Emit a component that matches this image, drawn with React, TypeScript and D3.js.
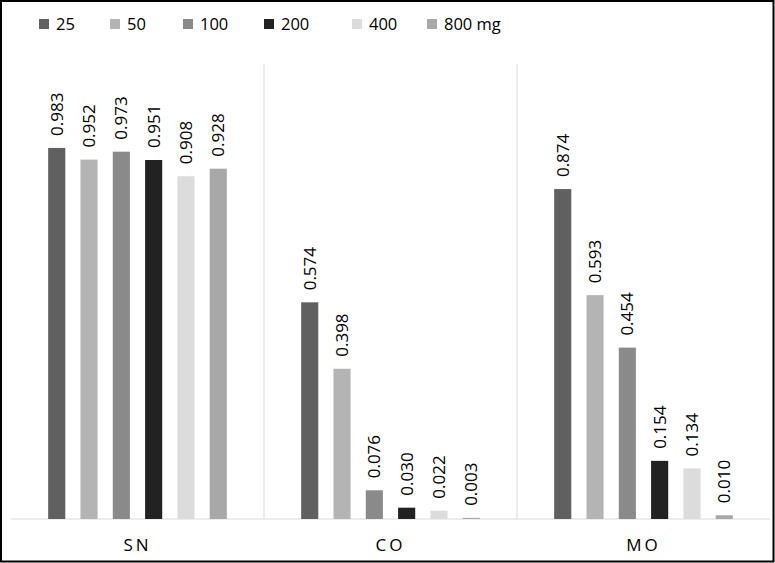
import React from 'react';
import * as d3 from 'd3';

const categories = ['SN', 'CO', 'MO'];
const doses = ['25', '50', '100', '200', '400', '800 mg'];
const doseColors = ['#606060', '#b4b4b4', '#8a8a8a', '#222222', '#dcdcdc', '#a8a8a8'];

const snValues = [0.983, 0.952, 0.973, 0.951, 0.908, 0.928];
const coValues = [0.574, 0.398, 0.076, 0.03, 0.022, 0.003];
const moValues = [0.874, 0.593, 0.454, 0.154, 0.134, 0.01];
const seriesByCategory = [snValues, coValues, moValues];

const legendX = [39, 110, 183, 264, 352, 427];

const W = 775;
const H = 563;
const font = "'Open Sans', 'Liberation Sans', Arial, sans-serif";

const App = () => {
  const x0 = d3.scaleBand<string>().domain(categories).range([11, 770]);
  const x1 = d3.scaleBand<string>()
    .domain(doses)
    .range([0, x0.bandwidth()])
    .paddingInner(0.47)
    .paddingOuter(1.15);
  const y = d3.scaleLinear().domain([0, 1.2]).range([519, 66]);

  return (
    <>
      <style>{`body{margin:0}`}</style>
      <svg width={W} height={H} style={{ display: 'block', fontFamily: font }}>
        <rect x={0} y={0} width={W} height={H} fill="#fff" />
        <rect x={1} y={1} width={W - 2.5} height={H - 2.5} fill="none" stroke="#000" strokeWidth={2} />

        {/* category separators */}
        {categories.slice(1).map(c => (
          <line key={c} x1={x0(c)} x2={x0(c)} y1={y(1.2) - 2} y2={y(0)} stroke="#d9d9d9" strokeWidth={1} />
        ))}
        <line x1={x0.range()[0]} x2={x0.range()[1]} y1={y(0)} y2={y(0)} stroke="#d9d9d9" strokeWidth={1} />

        {categories.map((c, ci) => (
          <g key={c} transform={`translate(${x0(c)},0)`}>
            {seriesByCategory[ci].map((v, i) => {
              const bx = x1(doses[i]) as number;
              const cx = bx + x1.bandwidth() / 2;
              return (
                <g key={i}>
                  <rect x={bx} y={y(v)} width={x1.bandwidth()} height={y(0) - y(v)} fill={doseColors[i]} />
                  <text
                    transform={`translate(${cx + 6},${y(v) - 12}) rotate(-90)`}
                    fontSize={17}
                    fill="#000"
                  >
                    {v.toFixed(3)}
                  </text>
                </g>
              );
            })}
            <text
              x={x0.bandwidth() / 2}
              y={551}
              textAnchor="middle"
              fontSize={17}
              letterSpacing={3}
              fill="#000"
            >
              {c}
            </text>
          </g>
        ))}

        {/* legend */}
        {doses.map((d, i) => (
          <g key={d} transform={`translate(${legendX[i]},19)`}>
            <rect x={0} y={0} width={10} height={10} fill={doseColors[i]} />
            <text x={17} y={11} fontSize={16.5} fill="#000">{d}</text>
          </g>
        ))}
      </svg>
    </>
  );
};

export default App;
